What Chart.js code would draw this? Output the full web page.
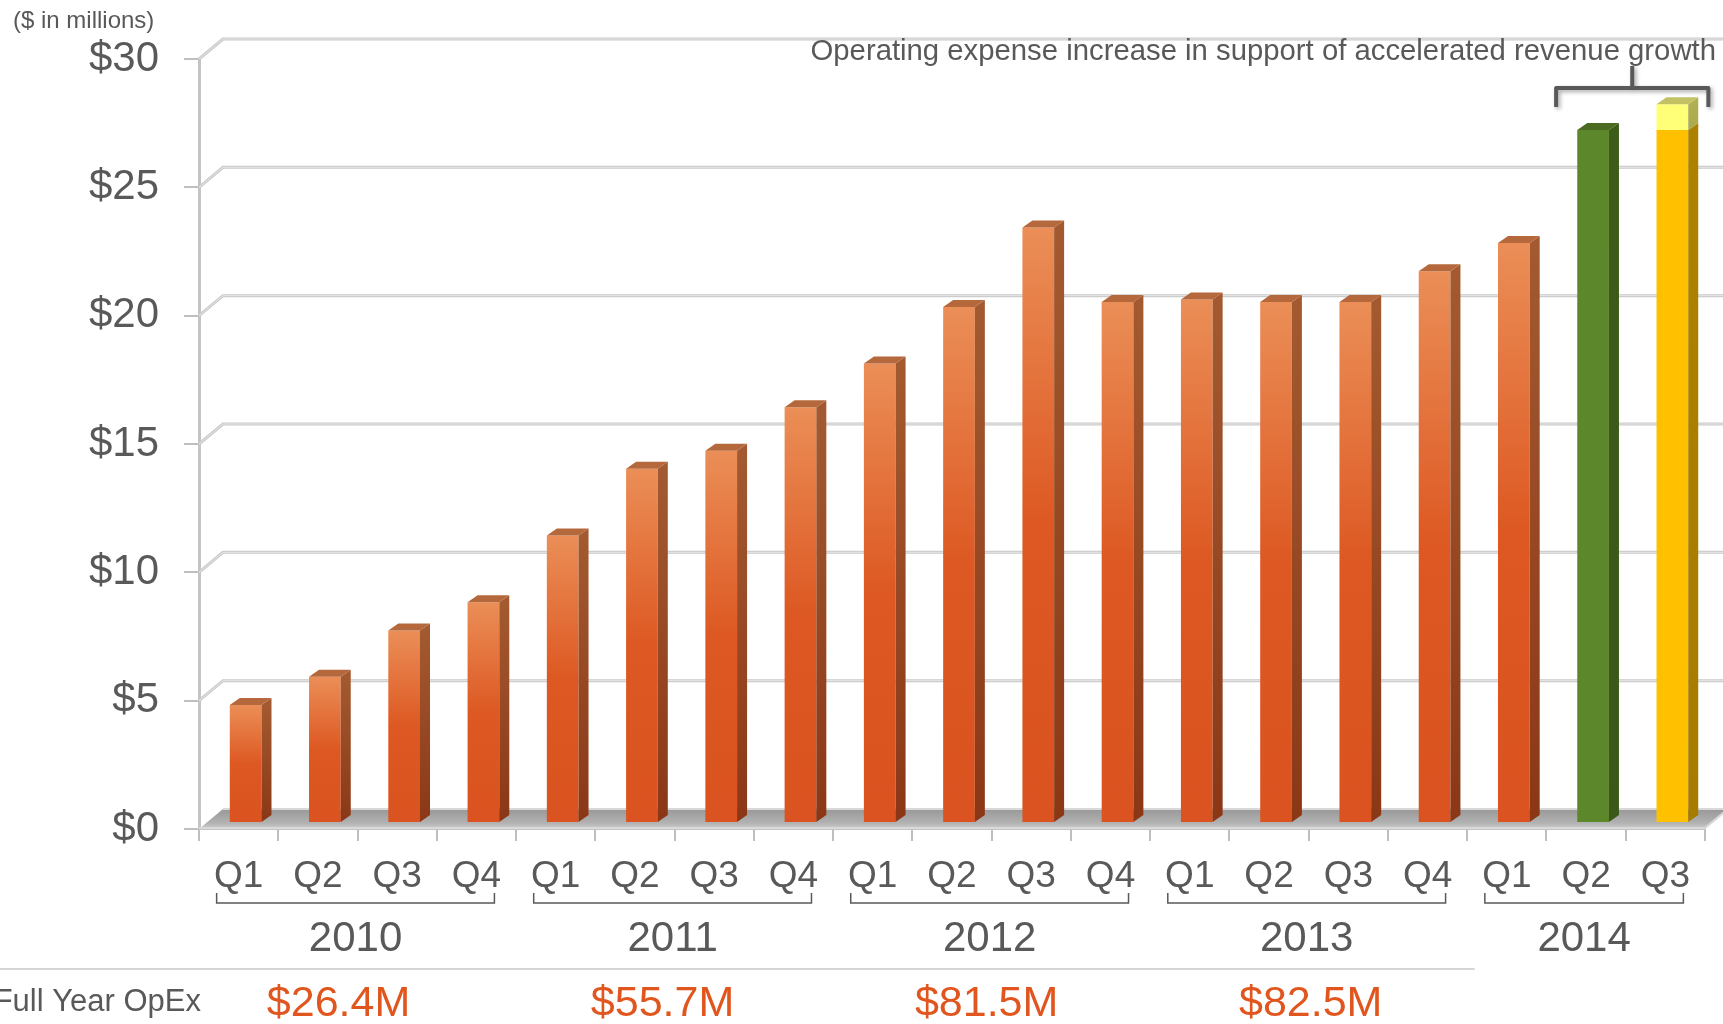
<!DOCTYPE html>
<html>
<head>
<meta charset="utf-8">
<script src="https://cdn.jsdelivr.net/npm/chart.js@4.4.0/dist/chart.umd.min.js"></script>
<style>
  html, body { margin: 0; padding: 0; background: #fff; }
  #wrap { width: 1723px; height: 1024px; position: relative; }
</style>
</head>
<body>
<div id="wrap"><canvas id="chart"></canvas></div>
<script>
// quarterly operating expense, $ in millions
var quarters = ['Q1', 'Q2', 'Q3', 'Q4', 'Q1', 'Q2', 'Q3', 'Q4', 'Q1', 'Q2', 'Q3', 'Q4',
                'Q1', 'Q2', 'Q3', 'Q4', 'Q1', 'Q2', 'Q3'];
var opexQ = [4.6, 5.7, 7.5, 8.6, 11.2, 13.8, 14.5, 16.2, 17.9, 20.1, 23.2, 20.3,
             20.4, 20.3, 20.3, 21.5, 22.6, 27.0, 27.0];
var opexExtra = [null, null, null, null, null, null, null, null, null, null, null, null,
                 null, null, null, null, null, null, 1.0];
var years = ['2010', '2011', '2012', '2013', '2014'];
var quartersPerYear = [4, 4, 4, 4, 3];
var fullYearOpex = ['$26.4M', '$55.7M', '$81.5M', '$82.5M'];
var yTicks = [0, 5, 10, 15, 20, 25, 30];
var note = 'Operating expense increase in support of accelerated revenue growth';

var FONT = "'Liberation Sans', Arial, Helvetica, sans-serif";
var GREY = '#595959';
var WALL_X = 24, WALL_Y = -20;   // depth of the back wall
var BAR_X = 7, BAR_Y = -6;       // bars sit a little behind the front plane
var SIDE_X = 10, SIDE_Y = -7;    // bar depth

var ORANGE = { side: ['#a35a30', '#8b3716'], top: '#b4683b' };
var GREEN = { front: '#5c872a', side: ['#3d5c1a', '#3a5818'], top: '#4a6b20' };
var GOLD = { front: '#ffc000', side: ['#ad8200', '#a67c00'], top: '#c79a10' };
var PALE = { front: '#ffff78', side: ['#b0b052', '#aaaa4c'], top: '#c2c264' };

function palette(datasetIndex, i) {
  if (datasetIndex === 1) return PALE;
  if (i === quarters.length - 1) return GOLD;
  if (i === quarters.length - 2) return GREEN;
  return ORANGE;
}

function frontFill(ctx) {
  var pal = palette(ctx.datasetIndex, ctx.dataIndex);
  if (pal.front) return pal.front;
  var chart = ctx.chart;
  if (!chart.chartArea || !chart.scales.y) return '#dd5822';
  var y = chart.scales.y;
  var top = y.getPixelForValue(ctx.raw), bottom = y.getPixelForValue(0);
  var g = chart.ctx.createLinearGradient(0, top, 0, bottom);
  g.addColorStop(0, '#eb8e57');
  g.addColorStop(0.5, '#dd5822');
  g.addColorStop(1, '#da5320');
  return g;
}

function poly(c, pts, fill) {
  c.beginPath();
  c.moveTo(pts[0][0], pts[0][1]);
  for (var k = 1; k < pts.length; k++) c.lineTo(pts[k][0], pts[k][1]);
  c.closePath();
  c.fillStyle = fill;
  c.fill();
}

var depth = {
  id: 'depth',
  beforeDatasetsDraw: function(chart) {
    var c = chart.ctx, a = chart.chartArea, y = chart.scales.y;
    c.save();
    // grid on the back wall, folded along the left wall
    yTicks.forEach(function(v) {
      if (v === 0) return;
      var py = y.getPixelForValue(v);
      c.beginPath();
      c.moveTo(a.left, py);
      c.lineTo(a.left + WALL_X, py + WALL_Y);
      c.lineTo(chart.width, py + WALL_Y);
      c.lineWidth = 3; c.strokeStyle = '#c9c9c9'; c.stroke();
      c.lineWidth = 1; c.strokeStyle = '#e6e6e6'; c.stroke();
    });
    // floor
    var p0 = y.getPixelForValue(0);
    var g = c.createLinearGradient(0, p0 + WALL_Y, 0, p0);
    g.addColorStop(0, '#989898');
    g.addColorStop(0.7, '#b2b2b2');
    g.addColorStop(1, '#cfcfcf');
    poly(c, [[a.left, p0], [a.right, p0], [a.right + WALL_X, p0 + WALL_Y], [a.left + WALL_X, p0 + WALL_Y]], g);
    c.beginPath();
    c.moveTo(a.left + WALL_X, p0 + WALL_Y);
    c.lineTo(chart.width, p0 + WALL_Y);
    c.moveTo(a.left, p0 - 1);
    c.lineTo(a.right, p0 - 1);
    c.lineTo(a.right + WALL_X, p0 + WALL_Y - 1);
    c.lineWidth = 2; c.strokeStyle = '#d9d9d9'; c.stroke();
    c.restore();
    c.save();
    c.translate(BAR_X, BAR_Y);
  },
  afterDatasetsDraw: function(chart) {
    var c = chart.ctx;
    chart.data.datasets.forEach(function(ds, di) {
      var meta = chart.getDatasetMeta(di);
      meta.data.forEach(function(el, i) {
        if (ds.data[i] === null) return;
        var p = el.getProps(['x', 'y', 'base', 'width'], true);
        var pal = palette(di, i);
        var l = p.x - p.width / 2, r = p.x + p.width / 2;
        var t = Math.min(p.y, p.base), b = Math.max(p.y, p.base);
        var sg = c.createLinearGradient(0, t, 0, b);
        sg.addColorStop(0, pal.side[0]);
        sg.addColorStop(1, pal.side[1]);
        poly(c, [[r, t], [r + SIDE_X, t + SIDE_Y], [r + SIDE_X, b + SIDE_Y], [r, b]], sg);
        var covered = di === 0 && opexExtra[i] !== null;
        if (!covered) {
          poly(c, [[l, t], [l + SIDE_X, t + SIDE_Y], [r + SIDE_X, t + SIDE_Y], [r, t]], pal.top);
        }
      });
    });
    c.restore();
  },
  afterDraw: function(chart) {
    var c = chart.ctx, x = chart.scales.x, a = chart.chartArea;
    c.save();
    c.fillStyle = GREY;
    c.textBaseline = 'middle';

    c.font = '24px ' + FONT;
    c.textAlign = 'left';
    c.fillText('($ in millions)', 13, 21);

    c.font = '29.3px ' + FONT;
    c.textAlign = 'right';
    c.fillText(note, 1716, 52);

    // bracket over the last two quarters
    var bl = x.getPixelForValue(quarters.length - 2) - 30;
    var br = x.getPixelForValue(quarters.length - 1) + 43;
    var bm = (bl + br) / 2;
    c.save();
    c.shadowColor = 'rgba(0,0,0,0.35)';
    c.shadowBlur = 4; c.shadowOffsetX = 2; c.shadowOffsetY = 2;
    c.beginPath();
    c.moveTo(bl, a.top + 48); c.lineTo(bl, a.top + 29); c.lineTo(br, a.top + 29); c.lineTo(br, a.top + 48);
    c.moveTo(bm, a.top + 29); c.lineTo(bm, a.top + 7);
    c.lineWidth = 4; c.strokeStyle = GREY; c.lineJoin = 'round'; c.stroke();
    c.restore();

    // year brackets, year labels and full-year totals
    var start = 0;
    years.forEach(function(yr, k) {
      var first = start, last = start + quartersPerYear[k] - 1;
      start += quartersPerYear[k];
      var l = x.getPixelForValue(first) - 22, r = x.getPixelForValue(last) + 18;
      c.beginPath();
      c.moveTo(l, 893); c.lineTo(l, 903); c.lineTo(r, 903); c.lineTo(r, 893);
      c.lineWidth = 1.5; c.strokeStyle = GREY; c.stroke();
      c.font = '42px ' + FONT;
      c.textAlign = 'center';
      c.fillStyle = GREY;
      c.fillText(yr, (l + r) / 2, 939);
      if (fullYearOpex[k]) {
        c.font = '43px ' + FONT;
        c.fillStyle = '#e0561e';
        c.fillText(fullYearOpex[k], (l + r) / 2 - 17 + 7 * k, 1004);
      }
    });

    c.beginPath();
    c.moveTo(0, 969); c.lineTo(x.getPixelForValue(15) + 47, 969);
    c.lineWidth = 2; c.strokeStyle = '#d6d6d6'; c.stroke();

    c.fillStyle = GREY;
    c.font = '31px ' + FONT;
    c.textAlign = 'right';
    c.fillText('Full Year OpEx', 201, 1002);
    c.restore();
  }
};

Chart.defaults.font.family = FONT;
Chart.defaults.color = GREY;

new Chart(document.getElementById('chart').getContext('2d'), {
  type: 'bar',
  data: {
    labels: quarters,
    datasets: [{
      data: opexQ,
      backgroundColor: frontFill,
      borderWidth: 0,
      barPercentage: 0.4,
      categoryPercentage: 1
    }, {
      data: opexExtra,
      backgroundColor: frontFill,
      borderWidth: 0,
      barPercentage: 0.4,
      categoryPercentage: 1
    }]
  },
  options: {
    responsive: true,
    maintainAspectRatio: false,
    animation: false,
    layout: { padding: { top: 59, right: 18, left: 0, bottom: 0 } },
    plugins: { legend: { display: false }, tooltip: { enabled: false } },
    scales: {
      x: {
        stacked: true,
        afterFit: function(scale) { scale.height = 195; },
        grid: { drawOnChartArea: false, drawTicks: true, tickLength: 12, color: '#bfbfbf', lineWidth: 2 },
        border: { display: true, color: '#c4c4c4', width: 2 },
        ticks: { font: { size: 37 }, color: GREY, padding: 14, autoSkip: false, maxRotation: 0 }
      },
      y: {
        stacked: true,
        min: 0,
        max: 30,
        afterFit: function(scale) { scale.width = 199; },
        afterBuildTicks: function(scale) {
          scale.ticks = yTicks.map(function(v) { return { value: v }; });
        },
        grid: { drawOnChartArea: false, drawTicks: true, tickLength: 15, color: '#bfbfbf', lineWidth: 2 },
        border: { display: true, color: '#c4c4c4', width: 3 },
        ticks: {
          font: { size: 42 },
          color: GREY,
          padding: 25,
          callback: function(v) { return '$' + v; }
        }
      }
    }
  },
  plugins: [depth]
});
</script>
</body>
</html>
